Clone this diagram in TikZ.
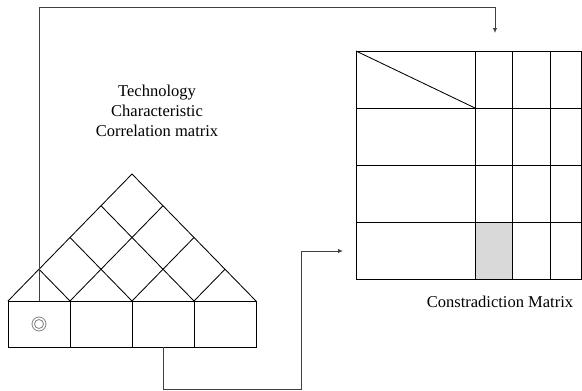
\documentclass[tikz,border=0pt]{standalone}
\usepackage{fontspec}
\setmainfont{Liberation Serif}
\usetikzlibrary{positioning,calc,arrows.meta}

\tikzset{
	cell/.style = {draw, minimum width = 62pt, minimum height = 46pt, inner sep = 0pt, outer sep = 0pt},
	conn/.style = {draw = black!75, line width = 1pt},
	tip/.style = {-{Latex[length = 5pt, width = 4.5pt]}},
	lbl/.style = {font = \fontsize{16.5}{20}\selectfont, text = black}
}

\begin{document}
\begin{tikzpicture} [x = 1pt, y = -1pt, line width = 0.85pt]
	\useasboundingbox (0,0) rectangle (582,391);
	% bottom row of the correlation roof
	\node [cell] (c1) at (39,324) {};
	\node [cell, right = 0pt of c1] (c2) {};
	\node [cell, right = 0pt of c2] (c3) {};
	\node [cell, right = 0pt of c3] (c4) {};
	\draw [gray, line width = 0.8pt] (c1.center) circle (7pt) (c1.center) circle (4.5pt);
	% roof
	\coordinate (bl) at (c1.north west);
	\coordinate (br) at (c4.north east);
	\coordinate (apex) at (132,174);
	\draw (bl) -- (apex) -- (br);
	\foreach \i in {1,2,3} {
		\draw ($(bl)!\i/4!(br)$) -- ($(apex)!\i/4!(br)$);
		\draw ($(bl)!\i/4!(br)$) -- ($(bl)!\i/4!(apex)$);
	}
	\node [lbl, align = center] (tcc) at (157,111) {Technology\\Characteristic\\Correlation matrix};
	% contradiction matrix
	\fill [black!15] (475,222) rectangle (512,279);
	\node [draw, minimum width = 225pt, minimum height = 228pt, inner sep = 0pt, outer sep = 0pt] (cm) at (468.5,165) {};
	\foreach \x in {475,512,550}
		\draw (\x,51) -- (\x,279);
	\foreach \y in {108,165,222}
		\draw (356,\y) -- (581,\y);
	\draw (cm.north west) -- (475,108);
	\node [lbl, anchor = base] (cmlabel) at (500,307) {Constradiction Matrix};
	% connectors
	\coordinate (in1) at (495,33);
	\coordinate (in2) at (343,251);
	\draw [conn, tip] (c1.north) -- (c1.north |- 0,7) -| (in1);
	\draw [conn, tip] (c3.south) -- (c3.south |- 0,389) -| (301,251) -- (in2);
\end{tikzpicture}
\end{document}
